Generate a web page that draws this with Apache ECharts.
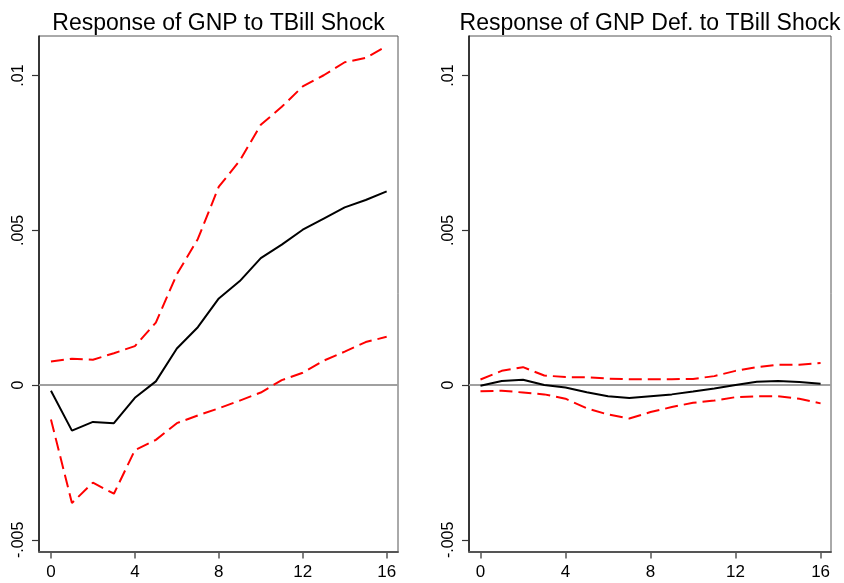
<!DOCTYPE html>
<html>
<head>
<meta charset="utf-8">
<script src="https://cdn.jsdelivr.net/npm/echarts@6/dist/echarts.min.js"></script>
<style>
html,body{margin:0;padding:0;background:#fff;}
#chart{width:844px;height:583px;}
</style>
</head>
<body>
<div id="chart"></div>
<script>
const horizons = [0,1,2,3,4,5,6,7,8,9,10,11,12,13,14,15,16];
const xTicks = [0,4,8,12,16];
const yTicks = [-0.005,0,0.005,0.01];
const yTickLabels = ['-.005','0','.005','.01'];
const titles = ['Response of GNP to TBill Shock','Response of GNP Def. to TBill Shock'];

const gnpIrf   = [-0.00018,-0.00147,-0.00119,-0.00123,-0.00041,0.00012,0.00118,0.00187,0.00280,0.00336,0.00410,0.00454,0.00502,0.00538,0.00574,0.00598,0.00626];
const gnpUpper = [0.00076,0.00085,0.00082,0.00103,0.00126,0.00202,0.00358,0.00472,0.00641,0.00725,0.00841,0.00899,0.00965,0.01001,0.01043,0.01057,0.01095];
const gnpLower = [-0.00111,-0.00381,-0.00315,-0.00351,-0.00210,-0.00177,-0.00123,-0.00098,-0.00075,-0.00050,-0.00024,0.00016,0.00040,0.00079,0.00108,0.00139,0.00156];

const defIrf   = [-0.00002,0.00013,0.00017,0.00000,-0.00008,-0.00023,-0.00036,-0.00042,-0.00036,-0.00030,-0.00021,-0.00011,0.00000,0.00011,0.00013,0.00010,0.00004];
const defUpper = [0.00018,0.00046,0.00058,0.00031,0.00026,0.00025,0.00021,0.00019,0.00019,0.00019,0.00020,0.00029,0.00046,0.00058,0.00066,0.00066,0.00071];
const defLower = [-0.00020,-0.00018,-0.00024,-0.00030,-0.00044,-0.00075,-0.00095,-0.00108,-0.00087,-0.00071,-0.00057,-0.00050,-0.00039,-0.00036,-0.00036,-0.00044,-0.00059];

const panels = [[gnpIrf,gnpUpper,gnpLower],[defIrf,defUpper,defLower]];
const FONT = '"Liberation Sans", Arial, sans-serif';

const grids = [
  {left:39, top:36, width:359, height:515.5},
  {left:469, top:36, width:362, height:515.5}
].map(g => Object.assign({show:true, borderColor:'#555', borderWidth:1, backgroundColor:'#fff'}, g));
const xRanges = [[-0.57,16.54],[-0.54,16.49]];

const labelMap = {};
yTicks.forEach((v,i)=>{ labelMap[v.toFixed(4)] = yTickLabels[i]; });

const xAxes = grids.map((g,i)=>({
  type:'value', gridIndex:i, min:xRanges[i][0], max:xRanges[i][1],
  axisLine:{show:true, onZero:false, lineStyle:{color:'#555', width:2}},
  axisTick:{show:true, length:7, lineStyle:{color:'#555', width:1.5}, customValues:xTicks},
  axisLabel:{customValues:xTicks, color:'#000', fontSize:17, fontFamily:FONT, margin:12},
  splitLine:{show:false}
}));
const yAxes = grids.map((g,i)=>({
  type:'value', gridIndex:i, min:-0.005376, max:0.011278,
  axisLine:{show:true, onZero:false, lineStyle:{color:'#111', width:1.5}},
  axisTick:{show:true, length:7, lineStyle:{color:'#333', width:1.2}, customValues:yTicks},
  axisLabel:{customValues:yTicks, rotate:90, color:'#000', fontSize:16, fontFamily:FONT, margin:12,
    formatter:v=>labelMap[Number(v).toFixed(4)] ?? ''},
  splitLine:{show:false}
}));

const series = [];
panels.forEach((p,i)=>{
  const [mid,up,lo] = p;
  series.push({
    type:'line', xAxisIndex:i, yAxisIndex:i, data:horizons.map((h,k)=>[h,mid[k]]),
    showSymbol:false, symbol:'none', lineStyle:{color:'#000', width:2}, z:5,
    markLine:{silent:true, symbol:['none','none'], label:{show:false},
      lineStyle:{color:'#a0a0a0', width:2, type:'solid'}, z:1, data:[{yAxis:0}]}
  });
  [up,lo].forEach(arr=>{
    series.push({
      type:'line', xAxisIndex:i, yAxisIndex:i, data:horizons.map((h,k)=>[h,arr[k]]),
      showSymbol:false, symbol:'none', z:4,
      lineStyle:{color:'#ff0000', width:2, type:[13,6]}
    });
  });
});

const chart = echarts.init(document.getElementById('chart'), null, {renderer:'canvas'});
chart.setOption({
  animation:false,
  backgroundColor:'#fff',
  title: titles.map((t,i)=>({
    text:t, left: i===0 ? 213.5 : 645, top:7, textAlign:'center',
    textStyle:{fontSize:23, fontWeight:'normal', color:'#000', fontFamily:FONT}
  })),
  grid: grids,
  xAxis: xAxes,
  yAxis: yAxes,
  series: series
});
</script>
</body>
</html>
